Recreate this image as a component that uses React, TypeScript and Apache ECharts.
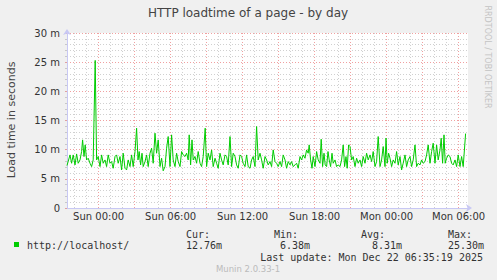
import React, { useEffect, useRef } from "react";
import * as echarts from "echarts";

// Minutes relative to Sun Dec 21 2025 00:00
const minutes = [
  -158, -143, -135, -127, -118, -110, -102, -93, -85, -80, -73, -67, -60, -52, -43, -35, -27, -17, -10, -2,
  7, 15, 23, 32, 40, 48, 57, 65, 73, 82, 90, 98, 107, 115, 123, 132, 140, 148, 157, 165,
  173, 182, 190, 197, 203, 210, 217, 223, 232, 240, 248, 257, 265, 273, 282, 290, 298, 307, 315, 323,
  332, 340, 348, 357, 365, 373, 382, 390, 398, 407, 415, 423, 432, 440, 448, 453, 460, 467, 473, 482,
  490, 498, 507, 515, 523, 533, 540, 548, 557, 565, 573, 582, 590, 598, 607, 615, 623, 632, 640, 648,
  657, 665, 673, 682, 690, 698, 707, 715, 723, 732, 740, 748, 757, 765, 773, 782, 790, 798, 807, 815,
  823, 832, 840, 848, 857, 865, 873, 882, 890, 898, 907, 915, 923, 932, 940, 948, 957, 965, 973, 982,
  990, 998, 1007, 1015, 1023, 1032, 1040, 1048, 1053, 1060, 1067, 1073, 1082, 1090, 1098, 1107, 1113, 1120, 1127, 1133,
  1140, 1147, 1153, 1160, 1167, 1173, 1182, 1190, 1198, 1207, 1215, 1223, 1230, 1237, 1243, 1250, 1257, 1265, 1273, 1282,
  1290, 1298, 1307, 1315, 1323, 1332, 1340, 1348, 1357, 1365, 1373, 1382, 1390, 1398, 1407, 1415, 1423, 1432, 1437, 1443,
  1450, 1457, 1465, 1473, 1482, 1490, 1498, 1507, 1515, 1523, 1532, 1540, 1548, 1557, 1565, 1573, 1582, 1590, 1598, 1607,
  1615, 1623, 1632, 1640, 1648, 1657, 1665, 1673, 1682, 1690, 1698, 1707, 1713, 1720, 1727, 1733, 1740, 1748, 1757, 1765,
  1773, 1782, 1790, 1798, 1807, 1815, 1823, 1835,
];

// Load time in milliseconds (shown as "m")
const loadMs = [
  7.27, 9.1, 7.67, 9.1, 7.39, 9.27, 7.67, 8.24, 9.68, 11.68, 8.82, 10.82, 8.24, 8.53, 7.67, 7.1, 8.24, 25.3, 8.24, 8.82,
  7.1, 9.1, 7.67, 8.24, 7.1, 9.1, 7.67, 7.96, 6.81, 8.82, 9.1, 7.67, 8.82, 6.53, 9.39, 6.81, 6.53, 8.24, 7.1, 9.1,
  7.1, 9.68, 13.68, 8.24, 9.68, 7.39, 9.39, 7.1, 7.96, 9.1, 7.1, 9.39, 10.25, 7.67, 12.82, 9.39, 11.68, 7.1, 8.53, 6.38,
  7.1, 10.25, 12.25, 7.1, 12.54, 8.24, 7.1, 9.39, 7.96, 7.1, 9.68, 9.1, 8.82, 9.39, 8.24, 12.54, 7.39, 11.68, 8.24, 8.82,
  7.67, 9.68, 7.67, 7.1, 8.82, 13.68, 7.1, 9.39, 8.24, 9.96, 7.1, 8.53, 7.67, 6.81, 9.39, 8.24, 7.39, 9.1, 8.82, 7.39,
  12.25, 7.1, 9.39, 8.82, 7.39, 6.81, 9.1, 8.82, 7.67, 7.1, 9.1, 7.1, 6.81, 8.24, 8.82, 7.1, 13.97, 8.24, 9.39, 8.24,
  6.81, 8.82, 8.24, 7.39, 7.96, 7.1, 9.96, 7.96, 7.67, 7.1, 7.96, 7.1, 9.1, 8.24, 6.81, 7.96, 7.39, 7.96, 7.1, 7.39,
  7.67, 6.81, 8.82, 8.24, 9.1, 8.53, 9.96, 9.39, 10.82, 8.24, 6.81, 8.82, 7.1, 9.68, 8.24, 7.67, 11.79, 7.1, 9.39, 7.39,
  7.1, 9.68, 8.24, 7.1, 9.39, 7.67, 8.24, 7.1, 7.39, 7.1, 8.24, 10.82, 7.1, 8.82, 6.81, 10.82, 10.53, 8.24, 8.82, 7.1,
  8.53, 7.67, 8.24, 7.1, 8.82, 7.67, 9.39, 8.24, 9.1, 7.96, 9.68, 7.1, 7.96, 12.25, 7.1, 8.24, 10.53, 7.1, 11.97, 7.67,
  9.39, 8.53, 7.1, 8.24, 7.67, 9.68, 7.39, 8.82, 6.53, 7.67, 9.1, 7.1, 8.24, 8.82, 7.1, 8.24, 10.82, 7.1, 7.67, 7.39,
  8.24, 7.67, 7.96, 9.1, 10.82, 7.67, 9.68, 11.11, 7.67, 10.82, 8.24, 9.96, 11.97, 7.67, 12.54, 7.67, 8.53, 9.1, 8.82, 7.67,
  7.39, 8.24, 7.1, 9.1, 7.1, 8.82, 7.1, 12.76,
];

const xTickMinutes = [0, 360, 720, 1080, 1440, 1800];
const xTickLabels = ["Sun 00:00", "Sun 06:00", "Sun 12:00", "Sun 18:00", "Mon 00:00", "Mon 06:00"];

const yTicks = [0, 5, 10, 15, 20, 25, 30];
const yTickLabels = ["0", "5 m", "10 m", "15 m", "20 m", "25 m", "30 m"];

const legendName = "http://localhost/";
const statLabels = ["Cur:", "Min:", "Avg:", "Max:"];
const statValues = ["12.76m", "6.38m", "8.31m", "25.30m"];

const X_MIN = -158;
const X_MAX = 1847;

export default function App() {
  const ref = useRef<HTMLDivElement>(null);

  useEffect(() => {
    if (!ref.current) return;
    const chart = echarts.init(ref.current, undefined, { renderer: "svg" });

    const hourLines: number[] = [];
    for (let h = Math.ceil(X_MIN / 60) * 60; h <= X_MAX; h += 60) hourLines.push(h);
    const minorV = hourLines.filter((h) => h % 180 !== 0).map((h) => ({ xAxis: h }));
    const majorV = hourLines.filter((h) => h % 180 === 0).map((h) => ({ xAxis: h }));

    const sans = "DejaVu Sans";
    const mono = "DejaVu Sans Mono";
    const txt = "#333";

    const statX = [186, 274, 361, 448];
    const statValX = [186, 280, 372, 448];

    chart.setOption({
      animation: false,
      backgroundColor: "#f0f0f0",
      grid: {
        left: 67,
        right: 29,
        top: 33,
        bottom: 72,
        show: true,
        backgroundColor: "#ffffff",
        borderWidth: 0,
        containLabel: false,
        outerBoundsMode: "none",
      },
      xAxis: {
        type: "value",
        min: X_MIN,
        max: X_MAX,
        axisLine: {
          show: true,
          onZero: false,
          lineStyle: { color: "#c8c8f4", width: 1 },
          symbol: ["none", "arrow"],
          symbolSize: [6, 6],
          symbolOffset: [0, 4],
        },
        axisTick: { show: false },
        splitLine: { show: false },
        axisLabel: {
          customValues: xTickMinutes,
          formatter: (v: number) => {
            const i = xTickMinutes.indexOf(v);
            return i >= 0 ? xTickLabels[i] : "";
          },
          fontFamily: sans,
          fontSize: 10,
          color: txt,
          margin: 3,
          hideOverlap: false,
        },
      },
      yAxis: {
        type: "value",
        min: 0,
        max: 30,
        interval: 5,
        axisLine: {
          show: true,
          onZero: false,
          lineStyle: { color: "#c8c8f4", width: 1 },
          symbol: ["none", "arrow"],
          symbolSize: [6, 6],
          symbolOffset: [0, 4],
        },
        axisTick: { show: true, length: 2, inside: false, lineStyle: { color: "#e0a0a0" } },
        minorTick: { show: true, splitNumber: 5, length: 2, lineStyle: { color: "#c8c8c8" } },
        splitLine: { show: true, lineStyle: { color: "#f0a0a0", type: [1, 2], width: 1 } },
        minorSplitLine: { show: true, lineStyle: { color: "#d0d0d0", type: [1, 2], width: 1 } },
        axisLabel: {
          formatter: (v: number) => {
            const i = yTicks.indexOf(v);
            return i >= 0 ? yTickLabels[i] : "";
          },
          fontFamily: sans,
          fontSize: 10,
          color: txt,
          margin: 7,
        },
      },
      series: [
        {
          type: "line",
          data: [],
          z: 1,
          silent: true,
          markLine: {
            silent: true,
            symbol: ["none", "none"],
            label: { show: false },
            animation: false,
            lineStyle: { color: "#d0d0d0", type: [1, 2], width: 1 },
            data: minorV,
          },
        },
        {
          type: "line",
          data: [],
          z: 2,
          silent: true,
          markLine: {
            silent: true,
            symbol: ["none", "none"],
            label: { show: false },
            animation: false,
            lineStyle: { color: "#f0a0a0", type: [1, 2], width: 1 },
            data: majorV,
          },
        },
        {
          type: "line",
          z: 5,
          showSymbol: false,
          data: minutes.map((m, i) => [m, loadMs[i]]),
          lineStyle: { color: "#00cc00", width: 1 },
          itemStyle: { color: "#00cc00" },
        },
      ],
      graphic: [
        {
          type: "text",
          x: 248,
          y: 13,
          style: {
            text: "HTTP loadtime of a page - by day",
            fontFamily: sans,
            fontSize: 12,
            fill: "#444",
            textAlign: "center",
            textVerticalAlign: "middle",
          },
        },
        {
          type: "text",
          x: 11,
          y: 120,
          rotation: Math.PI / 2,
          style: {
            text: "Load time in seconds",
            fontFamily: sans,
            fontSize: 11,
            fill: "#444",
            textAlign: "center",
            textVerticalAlign: "middle",
          },
        },
        {
          type: "text",
          x: 487,
          y: 57,
          rotation: -Math.PI / 2,
          style: {
            text: "RRDTOOL / TOBI OETIKER",
            fontFamily: sans,
            fontSize: 8,
            fill: "#c4c4c4",
            textAlign: "center",
            textVerticalAlign: "middle",
          },
        },
        {
          type: "rect",
          shape: { x: 14, y: 242, width: 5, height: 5 },
          style: { fill: "#00cc00" },
        },
        {
          type: "text",
          x: 27,
          y: 245,
          style: {
            text: legendName,
            fontFamily: mono,
            fontSize: 10,
            fill: txt,
            textVerticalAlign: "middle",
          },
        },
        ...statLabels.map((s, i) => ({
          type: "text",
          x: statX[i],
          y: 234,
          style: { text: s, fontFamily: mono, fontSize: 10, fill: txt, textVerticalAlign: "middle" },
        })),
        ...statValues.map((s, i) => ({
          type: "text",
          x: statValX[i],
          y: 245,
          style: { text: s, fontFamily: mono, fontSize: 10, fill: txt, textVerticalAlign: "middle" },
        })),
        {
          type: "text",
          x: 483,
          y: 257,
          style: {
            text: "Last update: Mon Dec 22 06:35:19 2025",
            fontFamily: mono,
            fontSize: 10,
            fill: txt,
            textAlign: "right",
            textVerticalAlign: "middle",
          },
        },
        {
          type: "text",
          x: 248,
          y: 269,
          style: {
            text: "Munin 2.0.33-1",
            fontFamily: sans,
            fontSize: 8.5,
            fill: "#bbbbbb",
            textAlign: "center",
            textVerticalAlign: "middle",
          },
        },
      ],
    });

    return () => chart.dispose();
  }, []);

  return (
    <div
      ref={ref}
      style={{ position: "fixed", left: 0, top: 0, width: 497, height: 280 }}
    />
  );
}
